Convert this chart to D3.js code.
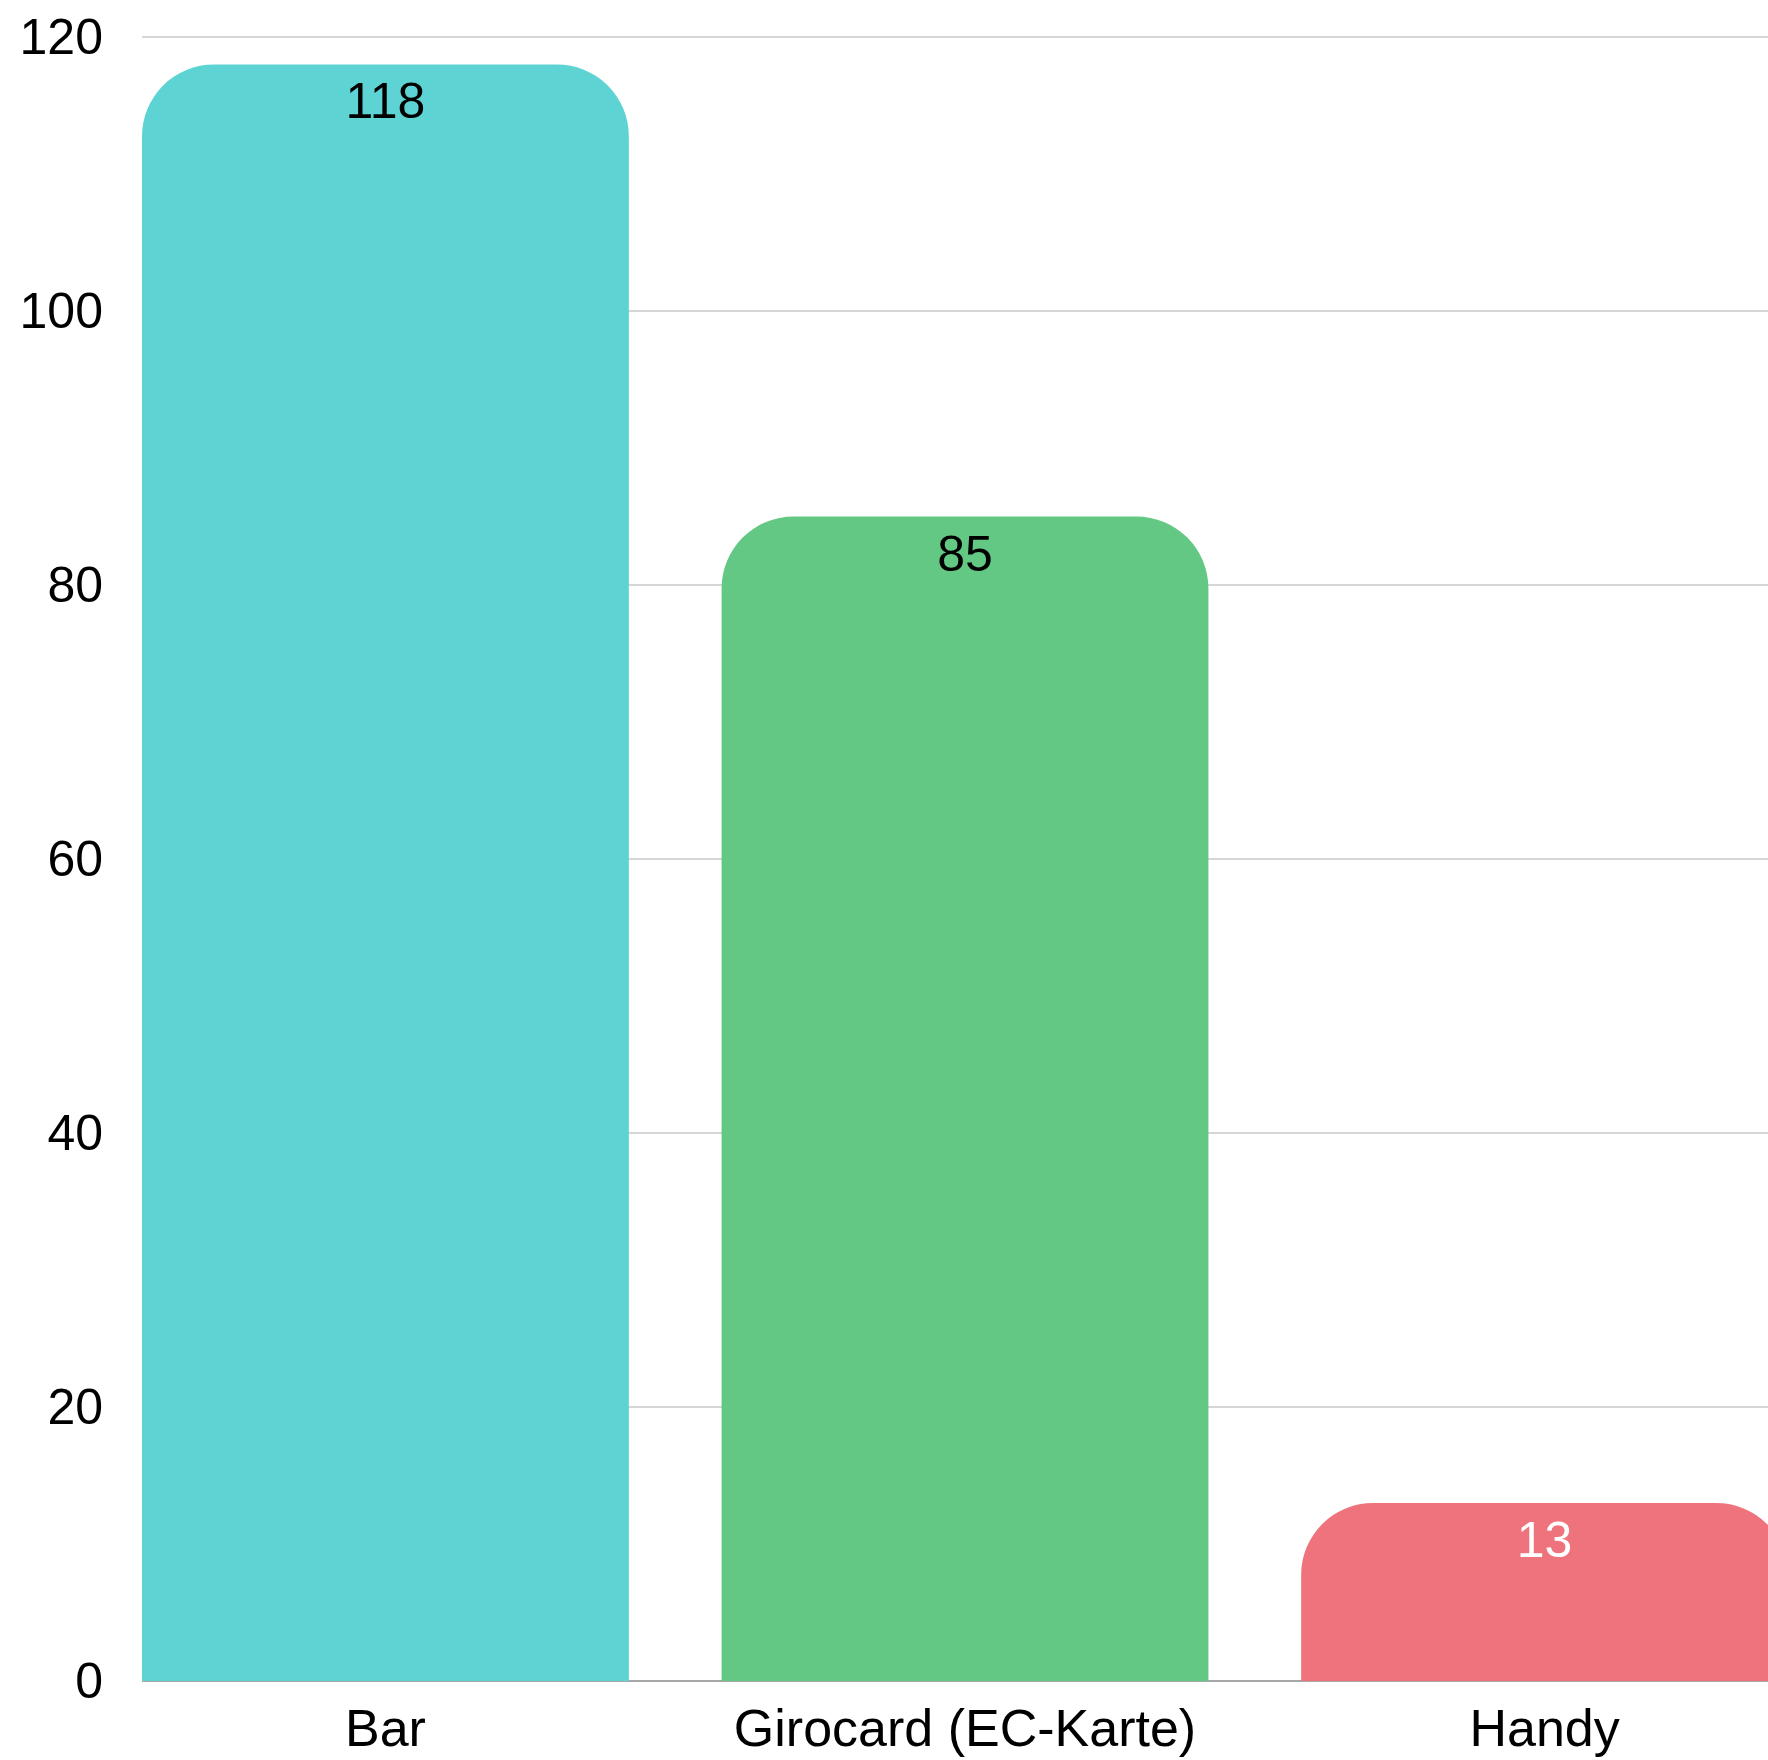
<!DOCTYPE html>
<html>
<head>
<meta charset="utf-8">
<script src="https://cdn.jsdelivr.net/npm/d3@7"></script>
<style>
html, body { margin: 0; padding: 0; background: #fff; overflow: hidden; }
svg { display: block; font-family: "Liberation Sans", Arial, sans-serif; }
</style>
</head>
<body>
<svg id="chart" width="1768" height="1760"></svg>
<script>
const categories = ["Bar", "Girocard (EC-Karte)", "Handy"];
const values = [118, 85, 13];
const barColors = ["#5dd4d3", "#62c883", "#ee737d"];
const labelColors = ["#000000", "#000000", "#ffffff"];
const yTicks = [0, 20, 40, 60, 80, 100, 120];

(function () {
const svg = d3.select("#chart");
const plotLeft = 142, plotRight = 1788, plotTop = 37, plotBottom = 1681;

const x = d3.scaleBand().domain(categories).range([plotLeft, plotRight]).paddingInner(0.16).paddingOuter(0);
const y = d3.scaleLinear().domain([0, 120]).range([plotBottom, plotTop]);

// gridlines
svg.append("g").selectAll("line").data(yTicks.filter(d => d !== 0)).join("line")
  .attr("x1", plotLeft).attr("x2", 1768)
  .attr("y1", d => y(d)).attr("y2", d => y(d))
  .attr("stroke", "#c8c8c8").attr("stroke-width", 1.5);
svg.append("line")
  .attr("x1", plotLeft).attr("x2", 1768)
  .attr("y1", y(0)).attr("y2", y(0))
  .attr("stroke", "#8a8a8a").attr("stroke-width", 1.5);

// y tick labels
svg.append("g").selectAll("text").data(yTicks).join("text")
  .attr("x", 103).attr("y", d => y(d))
  .attr("text-anchor", "end").attr("dominant-baseline", "central")
  .attr("font-size", 50).attr("fill", "#000")
  .text(d => d);

function topRounded(x0, y0, w, h, r) {
  r = Math.min(r, w / 2, h);
  return `M${x0},${y0 + h}V${y0 + r}A${r},${r} 0 0 1 ${x0 + r},${y0}H${x0 + w - r}A${r},${r} 0 0 1 ${x0 + w},${y0 + r}V${y0 + h}Z`;
}

const data = categories.map((c, i) => ({ c, v: values[i], color: barColors[i], lc: labelColors[i] }));

svg.append("g").selectAll("path").data(data).join("path")
  .attr("d", d => topRounded(x(d.c), y(d.v), x.bandwidth(), y(0) - y(d.v), 72))
  .attr("fill", d => d.color);

// value labels
svg.append("g").selectAll("text").data(data).join("text")
  .attr("x", d => x(d.c) + x.bandwidth() / 2)
  .attr("y", d => y(d.v) + 54)
  .attr("text-anchor", "middle")
  .attr("font-size", 50).attr("fill", d => d.lc)
  .text(d => d.v);

// category labels
svg.append("g").selectAll("text").data(categories).join("text")
  .attr("x", d => x(d) + x.bandwidth() / 2)
  .attr("y", 1746)
  .attr("text-anchor", "middle")
  .attr("font-size", 52).attr("fill", "#000")
  .text(d => d);
})();
</script>
</body>
</html>
